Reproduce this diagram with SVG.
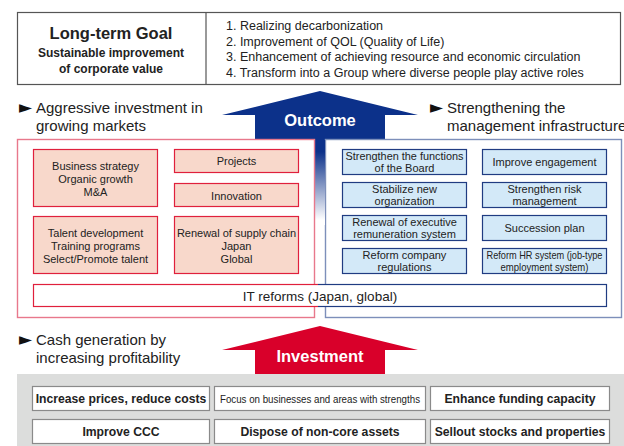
<svg xmlns="http://www.w3.org/2000/svg" width="624" height="446" viewBox="0 0 624 446">
  <defs>
    <style>
      text { font-family: "Liberation Sans", "DejaVu Sans", Arial, sans-serif; fill: #222; }
      .c { text-anchor: middle; }
      .hdr { font-size: 15px; }
      .tri { font-family: "DejaVu Sans", "Liberation Sans", sans-serif; font-size: 17px; fill: #111; }
      .goal { font-size: 16.5px; font-weight: bold; }
      .goal2 { font-size: 12px; font-weight: bold; }
      .list { font-size: 12.5px; }
      .small { font-size: 11px; }
      .arrowtxt { font-size: 16.5px; font-weight: bold; fill: #ffffff; }
      .bold12 { font-size: 12.2px; font-weight: bold; }
      .redbox { fill: #f8d8cb; stroke: #e0203c; stroke-width: 1.2; }
      .bluebox { fill: #d3e9f8; stroke: #203c82; stroke-width: 1.2; }
      .grey { fill: #ffffff; stroke: #8a8a8a; stroke-width: 1.2; }
    </style>
    <linearGradient id="shaftFade" x1="0" y1="115" x2="0" y2="220" gradientUnits="userSpaceOnUse">
      <stop offset="0" stop-color="#0c318a"/>
      <stop offset="0.35" stop-color="#0c318a"/>
      <stop offset="1" stop-color="#ffffff"/>
    </linearGradient>
    <linearGradient id="itStroke" x1="33" y1="0" x2="607" y2="0" gradientUnits="userSpaceOnUse">
      <stop offset="0.4965" stop-color="#e0203c"/>
      <stop offset="0.4965" stop-color="#203c82"/>
    </linearGradient>
  </defs>

  <!-- Long-term goal header -->
  <g id="goal">
    <rect x="17.5" y="12.5" width="603" height="72" fill="#ffffff" stroke="#555" stroke-width="1.2"/>
    <line x1="206" y1="12.5" x2="206" y2="84.5" stroke="#555" stroke-width="1.2"/>
    <text class="goal c" x="111" y="39">Long-term Goal</text>
    <text class="goal2 c" x="111" y="57">Sustainable improvement</text>
    <text class="goal2 c" x="111" y="73">of corporate value</text>
    <text class="list" x="226" y="29.5">1. Realizing decarbonization</text>
    <text class="list" x="226" y="45.5">2. Improvement of QOL (Quality of Life)</text>
    <text class="list" x="226" y="61">3. Enhancement of achieving resource and economic circulation</text>
    <text class="list" x="226" y="76.5">4. Transform into a Group where diverse people play active roles</text>
  </g>

  <!-- Outcome arrow -->
  <g id="outcome">
    <rect x="255" y="115" width="130" height="110" fill="url(#shaftFade)"/>
    <polygon points="320,91 418,115 385,115 385,139 255,139 255,115 222,115" fill="#0c318a"/>
    <text class="arrowtxt c" x="320" y="126">Outcome</text>
  </g>

  <!-- Section headings -->
  <g id="headings">
    <text class="tri" x="19" y="113">►</text>
    <text class="hdr" x="36" y="113">Aggressive investment in</text>
    <text class="hdr" x="36" y="131">growing markets</text>
    <text class="tri" x="430" y="113">►</text>
    <text class="hdr" x="447" y="113">Strengthening the</text>
    <text class="hdr" x="447" y="131">management infrastructure</text>
    <text class="tri" x="19" y="345">►</text>
    <text class="hdr" x="36" y="345">Cash generation by</text>
    <text class="hdr" x="36" y="363">increasing profitability</text>
  </g>

  <!-- Growth investment panel -->
  <g id="growth">
    <rect x="17.5" y="139.5" width="297" height="178" fill="#ffffff" stroke="#e8788c" stroke-width="1.4"/>
  </g>
  <!-- Management infrastructure panel -->
  <g id="infra">
    <rect x="325.5" y="139.5" width="296" height="178" fill="#ffffff" stroke="#7d8fba" stroke-width="1.4"/>
  </g>
  <rect x="316" y="140" width="9" height="85" fill="url(#shaftFade)"/>

  <g id="biz-strategy">
    <rect class="redbox" x="33.5" y="149.5" width="124" height="57"/>
    <text class="small c" x="95.5" y="170">Business strategy</text>
    <text class="small c" x="95.5" y="183">Organic growth</text>
    <text class="small c" x="95.5" y="196">M&amp;A</text>
  </g>
  <g id="projects">
    <rect class="redbox" x="174.5" y="149.5" width="124" height="23"/>
    <text class="small c" x="236.5" y="165">Projects</text>
  </g>
  <g id="innovation">
    <rect class="redbox" x="174.5" y="183.5" width="124" height="23"/>
    <text class="small c" x="236.5" y="199.5">Innovation</text>
  </g>
  <g id="talent">
    <rect class="redbox" x="33.5" y="216.5" width="124" height="57"/>
    <text class="small c" x="95.5" y="237">Talent development</text>
    <text class="small c" x="95.5" y="250">Training programs</text>
    <text class="small c" x="95.5" y="263">Select/Promote talent</text>
  </g>
  <g id="supply-chain">
    <rect class="redbox" x="174.5" y="216.5" width="124" height="57"/>
    <text class="small c" x="236.5" y="237">Renewal of supply chain</text>
    <text class="small c" x="236.5" y="250">Japan</text>
    <text class="small c" x="236.5" y="263">Global</text>
  </g>

  <g id="board">
    <rect class="bluebox" x="342.5" y="149.5" width="124" height="25"/>
    <text class="small c" x="404.5" y="160" textLength="118" lengthAdjust="spacingAndGlyphs">Strengthen the functions</text>
    <text class="small c" x="404.5" y="171.5">of the Board</text>
  </g>
  <g id="engagement">
    <rect class="bluebox" x="482.5" y="149.5" width="124" height="25"/>
    <text class="small c" x="544.5" y="166">Improve engagement</text>
  </g>
  <g id="organization">
    <rect class="bluebox" x="342.5" y="182.5" width="124" height="25"/>
    <text class="small c" x="404.5" y="193">Stabilize new</text>
    <text class="small c" x="404.5" y="204.5">organization</text>
  </g>
  <g id="risk">
    <rect class="bluebox" x="482.5" y="182.5" width="124" height="25"/>
    <text class="small c" x="544.5" y="193">Strengthen risk</text>
    <text class="small c" x="544.5" y="204.5">management</text>
  </g>
  <g id="remuneration">
    <rect class="bluebox" x="342.5" y="215.5" width="124" height="25"/>
    <text class="small c" x="404.5" y="226">Renewal of executive</text>
    <text class="small c" x="404.5" y="237.5">remuneration system</text>
  </g>
  <g id="succession">
    <rect class="bluebox" x="482.5" y="215.5" width="124" height="25"/>
    <text class="small c" x="544.5" y="232">Succession plan</text>
  </g>
  <g id="regulations">
    <rect class="bluebox" x="342.5" y="248.5" width="124" height="25"/>
    <text class="small c" x="404.5" y="259">Reform company</text>
    <text class="small c" x="404.5" y="270.5">regulations</text>
  </g>
  <g id="hr-system">
    <rect class="bluebox" x="482.5" y="248.5" width="124" height="25"/>
    <text class="small c" x="544.5" y="259" font-size="10.5" textLength="116" lengthAdjust="spacingAndGlyphs">Reform HR system (job-type</text>
    <text class="small c" x="544.5" y="270.5" font-size="10.5" textLength="88" lengthAdjust="spacingAndGlyphs">employment system)</text>
  </g>

  <g id="it-reforms">
    <rect x="33.5" y="284.5" width="573" height="22" fill="#ffffff" stroke="url(#itStroke)" stroke-width="1.2"/>
    <text class="c" x="320" y="300.5" font-size="13.5">IT reforms (Japan, global)</text>
  </g>

  <!-- Investment arrow -->
  <g id="investment">
    <polygon points="320,326 418,350 385,350 385,375 255,375 255,350 222,350" fill="#d9002a"/>
    <text class="arrowtxt c" x="320" y="362">Investment</text>
  </g>

  <!-- Cash generation band -->
  <g id="cash">
    <rect x="17" y="374" width="607" height="72" fill="#dcdddc"/>
  </g>
  <g id="prices">
    <rect class="grey" x="32.5" y="386.5" width="177" height="24"/>
    <text class="bold12 c" x="121" y="403">Increase prices, reduce costs</text>
  </g>
  <g id="focus">
    <rect class="grey" x="214.5" y="386.5" width="211" height="24"/>
    <text class="c" x="320" y="402.5" font-size="11" textLength="200" lengthAdjust="spacingAndGlyphs">Focus on businesses and areas with strengths</text>
  </g>
  <g id="funding">
    <rect class="grey" x="430.5" y="386.5" width="179" height="24"/>
    <text class="bold12 c" x="520" y="403">Enhance funding capacity</text>
  </g>
  <g id="ccc">
    <rect class="grey" x="32.5" y="419.5" width="177" height="24"/>
    <text class="bold12 c" x="121" y="436">Improve CCC</text>
  </g>
  <g id="dispose">
    <rect class="grey" x="214.5" y="419.5" width="211" height="24"/>
    <text class="bold12 c" x="320" y="436">Dispose of non-core assets</text>
  </g>
  <g id="sellout">
    <rect class="grey" x="430.5" y="419.5" width="179" height="24"/>
    <text class="bold12 c" x="520" y="436">Sellout stocks and properties</text>
  </g>
</svg>
